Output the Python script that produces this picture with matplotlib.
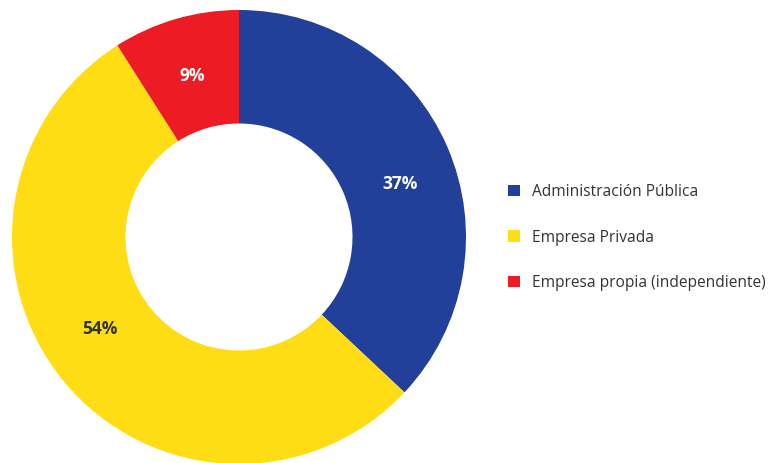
import matplotlib.pyplot as plt
from matplotlib.patches import Patch

# Distribución por tipo de empleador
categorias = ["Administración Pública", "Empresa Privada", "Empresa propia (independiente)"]
porcentajes = [37, 54, 9]
colores = ["#22409a", "#ffdd15", "#ed1c24"]
color_etiqueta = ["white", "#333333", "white"]
# pequeño ajuste de la posición de cada etiqueta (unidades del radio)
ajuste = [(0.03, -0.06), (-0.045, 0.065), (0.0, 0.0)]

plt.rcParams['font.family'] = ['Open Sans', 'DejaVu Sans']

fig = plt.figure(figsize=(7.76, 4.63), dpi=100)
ax = fig.add_axes([12 / 776, -1 / 463, 454 / 776, 454 / 463])

wedges, textos, autotextos = ax.pie(
    porcentajes, colors=colores, startangle=90, counterclock=False,
    radius=1.0, wedgeprops=dict(width=0.5, linewidth=0),
    autopct=lambda p: f"{p:.0f}%", pctdistance=0.74,
)
for t, c, (dx, dy) in zip(autotextos, color_etiqueta, ajuste):
    x, y = t.get_position()
    t.set_position((x + dx, y + dy))
    t.set_color(c)
    t.set_fontsize(12.5)
    t.set_fontweight('bold')
ax.set_xlim(-1, 1)
ax.set_ylim(-1, 1)
ax.set_aspect('equal')
ax.axis('off')

manijas = [Patch(facecolor=c, edgecolor='none') for c in colores]
fig.legend(manijas, categorias, loc='center left', bbox_to_anchor=(0.637, 0.487),
           frameon=False, fontsize=11.2, labelcolor='#333333',
           handlelength=0.77, handleheight=0.77, handletextpad=0.75, labelspacing=1.9)

fig.savefig("out.png", dpi=100)
